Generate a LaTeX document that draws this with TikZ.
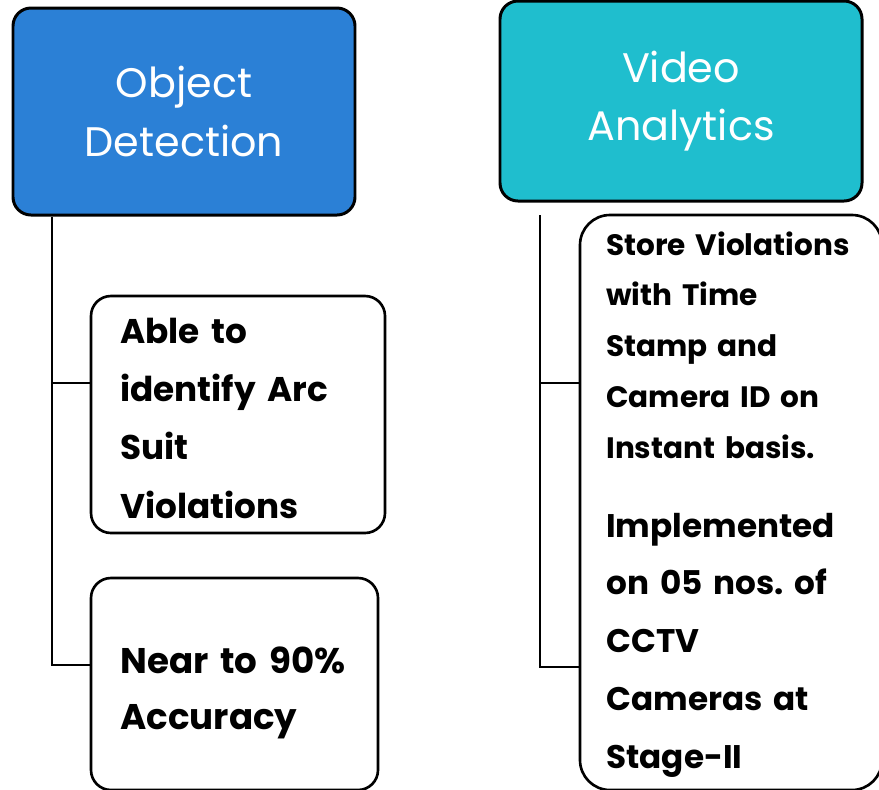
\documentclass[tikz,border=0pt]{standalone}
\usepackage{fontspec}
\setmainfont{Poppins}
\frenchspacing
\definecolor{odblue}{RGB}{43,128,214}
\definecolor{vacyan}{RGB}{31,190,206}
\begin{document}
\begin{tikzpicture}[x=0.02cm,y=-0.02cm,
  head/.style={draw=black,line width=1.7pt,rounded corners=0.36cm,inner sep=0pt},
  leaf/.style={draw=black,line width=1.5pt,rounded corners=0.4cm,inner sep=0pt},
  tline/.style={line width=1.4pt},
  title/.style={text=white,align=center,inner sep=0pt,font=\fontsize{23.5}{33.4}\selectfont},
  body/.style={align=left,inner sep=0pt,anchor=base west}]
\useasboundingbox (0,0) rectangle (879,789);
\clip (0,0) rectangle (879,789);
%% heads
\node[head,fill=odblue,minimum width=342*0.02cm,minimum height=207*0.02cm] (od) at (184,111.5) {};
\node[title] (odt) at (od) {Object\\Detection};
\node[head,fill=vacyan,minimum width=362*0.02cm,minimum height=200*0.02cm] (va) at (681,101) {};
\node[title] (vat) at (va) {Video\\Analytics};
%% leaves
\node[leaf,minimum width=294*0.02cm,minimum height=237*0.02cm] (arc) at (238,414.5) {};
\node[body,text width=265*0.02cm,font=\fontsize{19.5}{33.2}\selectfont\bfseries] (arct) at (120,343) {Able to\\identify Arc\\Suit\\Violations};
\node[leaf,minimum width=287*0.02cm,minimum height=212*0.02cm] (acc) at (234.5,684) {};
\node[body,text width=255*0.02cm,font=\fontsize{20.3}{32.3}\selectfont\bfseries] (acct) at (120,673) {Near to 90\%\\Accuracy};
\node[leaf,rounded corners=0.6cm,minimum width=302*0.02cm,minimum height=575*0.02cm] (cam) at (731,502.5) {};
\node[body,text width=265*0.02cm,font=\fontsize{16.8}{28.9}\selectfont\bfseries] (camt) at (606,255) {Store Violations\\with Time\\Stamp and\\Camera ID on\\Instant basis.};
\node[body,text width=265*0.02cm,font=\fontsize{18.6}{32.9}\selectfont\bfseries] (cctv) at (606,537) {Implemented\\on 05 nos. of\\CCTV\\Cameras at\\Stage-II};
%% tree lines
\coordinate (j1) at (52,383);
\coordinate (j2) at (52,665);
\draw[tline] (od.south -| j1) -- (j2) -- (acc.west |- j2);
\draw[tline] (j1) -- (arc.west |- j1);
\coordinate (k0) at (540,215);
\coordinate (k1) at (540,383);
\coordinate (k2) at (540,667);
\draw[tline] (k0) -- (k2) -- (cam.west |- k2);
\draw[tline] (k1) -- (cam.west |- k1);
\end{tikzpicture}
\end{document}
